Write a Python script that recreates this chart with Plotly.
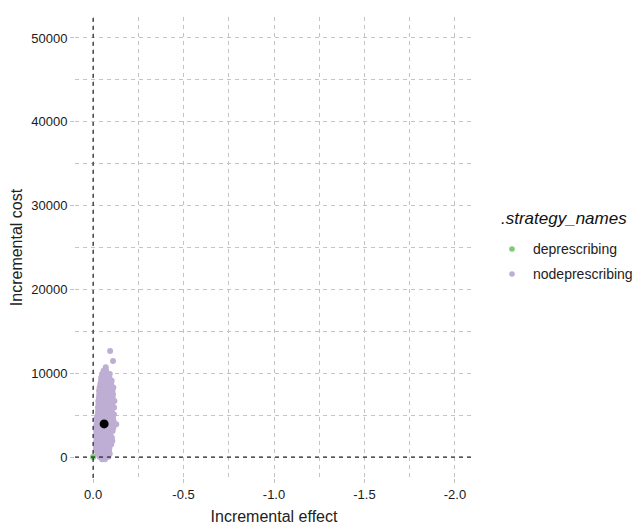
import plotly.graph_objects as go

# Probabilistic sensitivity analysis draws for nodeprescribing vs deprescribing
psa_effect = [
    -0.050, -0.065,
    -0.035, -0.048, -0.060, -0.072, -0.084,
    -0.026, -0.040, -0.054, -0.068, -0.082, -0.092,
    -0.018, -0.032, -0.046, -0.060, -0.074, -0.088,
    -0.016, -0.031, -0.046, -0.060, -0.075, -0.090,
    -0.016, -0.031, -0.046, -0.060, -0.074, -0.089, -0.100,
    -0.018, -0.033, -0.048, -0.064, -0.079, -0.094, -0.106,
    -0.018, -0.032, -0.047, -0.061, -0.076, -0.091, -0.104,
    -0.019, -0.034, -0.049, -0.065, -0.081, -0.096,
    -0.017, -0.031, -0.046, -0.060, -0.075, -0.090, -0.108,
    -0.020, -0.034, -0.049, -0.064, -0.079, -0.094, -0.112,
    -0.019, -0.033, -0.048, -0.063, -0.078, -0.093, -0.118, -0.128,
    -0.022, -0.036, -0.051, -0.066, -0.081, -0.097, -0.113,
    -0.021, -0.035, -0.050, -0.065, -0.080, -0.096, -0.110,
    -0.026, -0.040, -0.055, -0.070, -0.085, -0.100, -0.115,
    -0.028, -0.043, -0.058, -0.073, -0.088, -0.103,
    -0.027, -0.041, -0.056, -0.071, -0.086, -0.101, -0.116,
    -0.030, -0.045, -0.060, -0.075, -0.090, -0.106,
    -0.029, -0.044, -0.059, -0.074, -0.089, -0.104, -0.118,
    -0.032, -0.047, -0.062, -0.077, -0.092, -0.108,
    -0.034, -0.049, -0.064, -0.079, -0.094, -0.110,
    -0.033, -0.048, -0.063, -0.078, -0.093, -0.107,
    -0.036, -0.051, -0.066, -0.081, -0.096, -0.112,
    -0.040, -0.055, -0.070, -0.085, -0.100,
    -0.044, -0.058, -0.073, -0.088, -0.103,
    -0.045, -0.060, -0.075, -0.090,
    -0.050, -0.065, -0.080, -0.092,
    -0.058, -0.072,
    -0.070,
    -0.110, -0.094,
]
psa_cost = [
    -250, -250,
    50, 50, 50, 50, 50,
    400, 400, 400, 400, 400, 400,
    750, 750, 750, 750, 750, 750,
    1100, 1100, 1100, 1100, 1100, 1100,
    1500, 1500, 1500, 1500, 1500, 1500, 1500,
    1900, 1900, 1900, 1900, 1900, 1900, 1900,
    2300, 2300, 2300, 2300, 2300, 2300, 2300,
    2700, 2700, 2700, 2700, 2700, 2700,
    3100, 3100, 3100, 3100, 3100, 3100, 3100,
    3500, 3500, 3500, 3500, 3500, 3500, 3500,
    3900, 3900, 3900, 3900, 3900, 3900, 3900, 3900,
    4300, 4300, 4300, 4300, 4300, 4300, 4300,
    4700, 4700, 4700, 4700, 4700, 4700, 4700,
    5100, 5100, 5100, 5100, 5100, 5100, 5100,
    5500, 5500, 5500, 5500, 5500, 5500,
    5900, 5900, 5900, 5900, 5900, 5900, 5900,
    6300, 6300, 6300, 6300, 6300, 6300,
    6700, 6700, 6700, 6700, 6700, 6700, 6700,
    7100, 7100, 7100, 7100, 7100, 7100,
    7500, 7500, 7500, 7500, 7500, 7500,
    7900, 7900, 7900, 7900, 7900, 7900,
    8300, 8300, 8300, 8300, 8300, 8300,
    8700, 8700, 8700, 8700, 8700,
    9100, 9100, 9100, 9100, 9100,
    9500, 9500, 9500, 9500,
    9900, 9900, 9900, 9900,
    10300, 10300,
    10700,
    11450, 12650,
]

# Reference strategy sits at the origin
ref_effect = [0.0]
ref_cost = [0.0]

# Mean incremental effect / cost
mean_effect = [-0.061]
mean_cost = [3950]

strategy_names = ["deprescribing", "nodeprescribing"]
strategy_colors = ["#7FC97F", "#BEAED4"]
legend_title = ".strategy_names"

x_ticks = [0.0, -0.5, -1.0, -1.5, -2.0]
x_tick_text = ["0.0", "-0.5", "-1.0", "-1.5", "-2.0"]
y_ticks = [0, 10000, 20000, 30000, 40000, 50000]
y_tick_text = ["0", "10000", "20000", "30000", "40000", "50000"]

FONT = "Liberation Sans, Arial, sans-serif"
DASH = "4px,4px"

# Plot area in pixels (left, right, top, bottom)
W, H = 635, 525
L, R, T, B = 75, 473, 17, 478


def px_x(p):
    return (p - L) / (R - L)


def px_y(p):
    return 1 - (p - T) / (B - T)


fig = go.Figure()

fig.add_trace(go.Scatter(
    x=psa_effect, y=psa_cost, mode="markers", name=strategy_names[1],
    showlegend=False,
    marker=dict(color=strategy_colors[1], size=6, line=dict(width=0)),
))
fig.add_trace(go.Scatter(
    x=ref_effect, y=ref_cost, mode="markers", name=strategy_names[0],
    showlegend=False,
    marker=dict(color=strategy_colors[0], size=6, line=dict(width=0)),
))
fig.add_trace(go.Scatter(
    x=mean_effect, y=mean_cost, mode="markers", showlegend=False,
    marker=dict(color="black", size=9, line=dict(width=0)),
))

fig.add_vline(x=0, line=dict(color="black", width=1, dash=DASH))
fig.add_hline(y=0, line=dict(color="black", width=1, dash=DASH))

grid_col = "#C4C4C4"
tick_font = dict(family=FONT, size=13, color="#1a1a1a")
title_font = dict(family=FONT, size=16, color="#222222")

fig.update_xaxes(
    range=[0.1, -2.1], tickvals=x_ticks, ticktext=x_tick_text,
    showgrid=True, gridcolor=grid_col, griddash=DASH, gridwidth=1,
    minor=dict(dtick=0.25, tick0=0, showgrid=True, gridcolor=grid_col,
               griddash=DASH, gridwidth=1, ticks=""),
    zeroline=False, showline=False,
    ticks="outside", ticklen=4, tickcolor=grid_col,
    tickfont=tick_font,
    title=dict(text="Incremental effect", font=title_font, standoff=10),
    automargin=False,
)
fig.update_yaxes(
    range=[-2500, 52500], tickvals=y_ticks, ticktext=y_tick_text,
    showgrid=True, gridcolor=grid_col, griddash=DASH, gridwidth=1,
    minor=dict(dtick=5000, tick0=0, showgrid=True, gridcolor=grid_col,
               griddash=DASH, gridwidth=1, ticks=""),
    zeroline=False, showline=False,
    ticks="outside", ticklen=4, tickcolor=grid_col,
    tickfont=tick_font,
    title=dict(text="Incremental cost", font=title_font, standoff=4),
    automargin=False,
)

# Legend drawn as key glyphs and labels so it can run past the right edge
fig.add_annotation(
    text=legend_title, xref="paper", yref="paper",
    x=px_x(499), y=px_y(218), xanchor="left", yanchor="middle",
    showarrow=False,
    font=dict(family=FONT, size=17, color="#111111", style="italic"),
)
for i, (name, col) in enumerate(zip(strategy_names, strategy_colors)):
    cy = px_y(249 + 25 * i)
    fig.add_shape(
        type="circle", xref="paper", yref="paper",
        xsizemode="pixel", ysizemode="pixel",
        xanchor=px_x(512), yanchor=cy,
        x0=-2.8, x1=2.8, y0=-2.8, y1=2.8,
        fillcolor=col, line=dict(width=0),
    )
    fig.add_annotation(
        text=name, xref="paper", yref="paper",
        x=px_x(531), y=cy, xanchor="left", yanchor="middle",
        showarrow=False,
        font=dict(family=FONT, size=14, color="#222222"),
    )

fig.update_layout(
    width=W, height=H,
    margin=dict(l=L, r=W - R, t=T, b=H - B),
    plot_bgcolor="white", paper_bgcolor="white",
    font=dict(family=FONT),
    showlegend=False,
)

fig.write_html("out.html")
